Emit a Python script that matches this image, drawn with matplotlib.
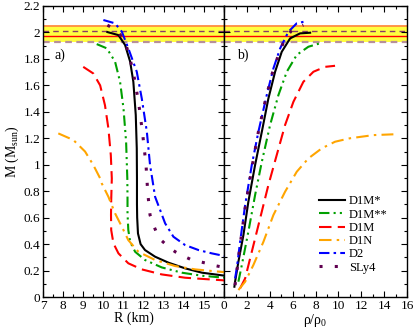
import matplotlib
matplotlib.use("Agg")
import matplotlib.pyplot as plt
from matplotlib.ticker import MultipleLocator

plt.rcParams['font.family'] = ['Liberation Serif', 'DejaVu Serif']
plt.rcParams['mathtext.fontset'] = 'custom'
plt.rcParams['mathtext.rm'] = 'Liberation Serif'
plt.rcParams['mathtext.it'] = 'Liberation Serif:italic'

names = ["D1M*", "D1M**", "D1M", "D1N", "D2", "SLy4"]

# Mass-radius curves (R in km, M in Msun)
R_d1ms = [10.2, 10.75, 11.08, 11.33, 11.49, 11.61, 11.66, 11.67, 11.67, 11.68, 11.72, 11.85, 12.07, 12.57, 13.23, 14.06, 14.9, 15.8, 16.0]
M_d1ms = [2.003, 1.98, 1.905, 1.78, 1.627, 1.376, 1.124, 0.897, 0.70, 0.60, 0.481, 0.40, 0.355, 0.305, 0.26, 0.217, 0.184, 0.166, 0.162]

R_d1mss = [9.67, 10.17, 10.58, 10.83, 11.0, 11.13, 11.19, 11.2, 11.2, 11.24, 11.33, 11.58, 12.07, 12.9, 13.9, 14.9, 15.8, 16.0]
M_d1mss = [1.912, 1.88, 1.78, 1.627, 1.426, 1.174, 0.897, 0.75, 0.633, 0.506, 0.418, 0.342, 0.28, 0.224, 0.184, 0.161, 0.149, 0.147]

R_d1m = [9.0, 9.5, 9.84, 10.08, 10.25, 10.37, 10.42, 10.39, 10.38, 10.39, 10.5, 10.75, 11.24, 11.91, 12.9, 14.06, 15.8, 16.0]
M_d1m = [1.74, 1.69, 1.60, 1.45, 1.275, 1.073, 0.897, 0.733, 0.62, 0.506, 0.406, 0.33, 0.255, 0.209, 0.171, 0.146, 0.128, 0.126]

R_d1n = [7.76, 8.51, 9.09, 9.5, 9.84, 9.92, 10.25, 10.58, 10.92, 11.24, 11.74, 12.57, 13.57, 14.56, 15.8, 16.0]
M_d1n = [1.237, 1.187, 1.10, 0.998, 0.897, 0.859, 0.758, 0.633, 0.531, 0.43, 0.342, 0.28, 0.234, 0.209, 0.191, 0.188]

R_d2 = [10.0, 10.58, 10.92, 11.24, 11.66, 11.91, 12.16, 12.32, 12.44, 12.57, 12.82, 13.07, 13.48, 14.06, 14.73, 15.39, 15.8, 16.0]
M_d2 = [2.094, 2.069, 2.005, 1.88, 1.703, 1.50, 1.25, 0.998, 0.884, 0.758, 0.658, 0.557, 0.456, 0.393, 0.355, 0.33, 0.317, 0.31]

R_sly4 = [10.2, 10.67, 11.08, 11.33, 11.58, 11.79, 11.96, 12.12, 12.21, 12.32, 12.49, 12.66, 12.9, 13.23, 13.57, 13.98, 14.4, 15.14, 15.56, 16.0]
M_sly4 = [2.055, 2.018, 1.93, 1.80, 1.627, 1.426, 1.224, 0.998, 0.78, 0.62, 0.544, 0.481, 0.426, 0.38, 0.342, 0.31, 0.28, 0.255, 0.237, 0.224]

# Mass vs central density (rho/rho0)
rho_d1ms = [0.9, 0.96, 1.25, 1.69, 2.12, 2.71, 3.3, 3.87, 4.46, 5.04, 5.77, 6.64, 7.52]
Mr_d1ms = [0.078, 0.116, 0.267, 0.469, 0.72, 0.998, 1.25, 1.50, 1.703, 1.854, 1.955, 1.993, 1.998]

rho_d1mss = [1.25, 1.55, 2.12, 2.71, 3.3, 4.02, 4.75, 5.48, 6.35, 7.37, 8.39]
Mr_d1mss = [0.116, 0.242, 0.494, 0.771, 1.023, 1.30, 1.527, 1.703, 1.83, 1.892, 1.918]

rho_d1m = [1.4, 1.84, 2.42, 3.15, 3.87, 4.6, 5.33, 6.06, 6.93, 7.81, 8.83, 9.7]
Mr_d1m = [0.066, 0.141, 0.342, 0.595, 0.846, 1.073, 1.30, 1.476, 1.627, 1.703, 1.74, 1.748]

rho_d1n = [1.25, 1.84, 2.56, 3.44, 4.31, 5.33, 6.35, 7.37, 8.54, 9.7, 11.0, 13.05, 14.8]
Mr_d1n = [0.053, 0.116, 0.242, 0.418, 0.62, 0.796, 0.947, 1.048, 1.124, 1.174, 1.2, 1.224, 1.23]

rho_d2 = [0.96, 1.11, 1.4, 1.84, 2.42, 3.0, 3.73, 4.31, 4.9, 5.62, 6.35, 7.23]
Mr_d2 = [0.141, 0.217, 0.418, 0.695, 0.998, 1.25, 1.527, 1.728, 1.88, 2.005, 2.069, 2.086]

rho_sly4 = [0.96, 1.11, 1.4, 1.84, 2.42, 3.0, 3.58, 4.17, 4.75, 5.33, 6.06, 6.93]
Mr_sly4 = [0.09, 0.191, 0.393, 0.67, 0.973, 1.25, 1.476, 1.68, 1.83, 1.955, 2.03, 2.056]

# Observational band
band_lo, band_hi = 1.93, 2.05
obs_lines = [2.05, 2.01, 1.97, 1.93]

styles = [
    dict(color="black", ls="-", lw=1.5),
    dict(color="#00a000", ls=(0, (5, 2, 1, 2, 1, 2)), lw=1.5),
    dict(color="#ff0000", ls=(0, (6, 3)), lw=1.5),
    dict(color="#ffa500", ls=(0, (6, 2.5, 1.2, 2.5)), lw=1.5),
    dict(color="#0000ff", ls=(0, (5, 2, 1.2, 2)), lw=1.5),
    dict(color="#600050", ls=(0, (1, 4)), lw=2.2),
]

mr = [(R_d1ms, M_d1ms), (R_d1mss, M_d1mss), (R_d1m, M_d1m), (R_d1n, M_d1n), (R_d2, M_d2), (R_sly4, M_sly4)]
mrho = [(rho_d1ms, Mr_d1ms), (rho_d1mss, Mr_d1mss), (rho_d1m, Mr_d1m), (rho_d1n, Mr_d1n), (rho_d2, Mr_d2), (rho_sly4, Mr_sly4)]

fig = plt.figure(figsize=(4.15, 3.33), dpi=100)
ax1 = fig.add_axes([0.1036, 0.108, 0.4364, 0.874])
ax2 = fig.add_axes([0.5400, 0.108, 0.4410, 0.874])

def band(ax):
    ax.axhspan(band_lo, band_hi, color="#ffff40", zorder=0, lw=0)
    ax.axhline(obs_lines[0], color="#ff8c40", lw=1.3, zorder=1)
    ax.axhline(obs_lines[1], color="#8a3a6a", lw=1.0, ls=(0, (4, 3)), zorder=1)
    ax.axhline(obs_lines[2], color="#ff0000", lw=1.0, zorder=1)
    ax.axhline(obs_lines[3], color="#b89098", lw=1.6, ls=(0, (3, 2)), zorder=1)

for ax in (ax1, ax2):
    band(ax)
    ax.set_ylim(0, 2.2)
    ax.yaxis.set_major_locator(MultipleLocator(0.2))
    ax.yaxis.set_minor_locator(MultipleLocator(0.1))
    ax.tick_params(which="both", direction="in", top=True, right=True, labelsize=9.5, pad=2)
    ax.tick_params(which="major", length=4.5, width=0.8)
    ax.tick_params(which="minor", length=2.5, width=0.8)
    for s in ax.spines.values():
        s.set_linewidth(1.0)

lines = []
for (x, y), st in zip(mr, styles):
    ax1.plot(x, y, **st, zorder=3)
for (x, y), st, nm in zip(mrho, styles, names):
    l, = ax2.plot(x, y, **st, label=nm, zorder=3)
    lines.append(l)

ax1.set_xlim(7, 16)
ax1.xaxis.set_minor_locator(MultipleLocator(0.5))
ax1.set_xticks(list(range(7, 17)))
ax1.set_xticklabels([str(i) for i in range(7, 16)] + [""])
ax1.set_yticks([0, 0.2, 0.4, 0.6, 0.8, 1.0, 1.2, 1.4, 1.6, 1.8, 2.0, 2.2])
ax1.set_yticklabels(["0", "0.2", "0.4", "0.6", "0.8", "1", "1.2", "1.4", "1.6", "1.8", "2", "2.2"])
ax1.set_xlabel("R (km)", fontsize=10, labelpad=0)
ax1.set_ylabel(r"M (M$_{\rm sun}$)", fontsize=10, labelpad=2)
ax1.text(0.065, 0.82, "a)", transform=ax1.transAxes, fontsize=10)

ax2.set_xlim(0, 16)
ax2.xaxis.set_major_locator(MultipleLocator(2))
ax2.xaxis.set_minor_locator(MultipleLocator(1))
ax2.tick_params(labelleft=False)
ax2.set_xlabel(r"ρ/ρ$_{\rm 0}$", fontsize=10, labelpad=0)
ax2.text(0.07, 0.82, "b)", transform=ax2.transAxes, fontsize=10)

ax2.legend(handles=lines, loc="lower right", bbox_to_anchor=(0.94, 0.05), frameon=False,
           fontsize=9, handlelength=2.1, handletextpad=0.3, labelspacing=0.1, borderpad=0.2)

fig.savefig("out.png", dpi=100)
